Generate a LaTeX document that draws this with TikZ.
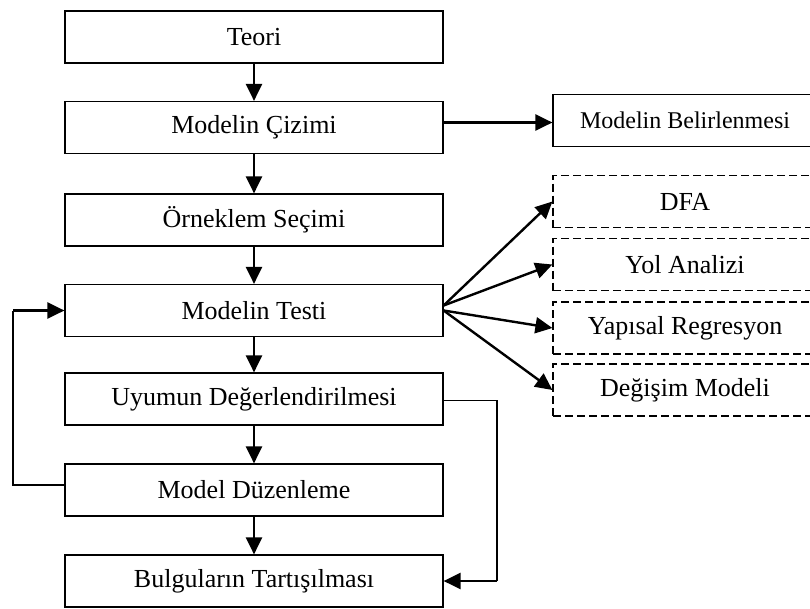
\documentclass[tikz,border=0pt]{standalone}
\usepackage{fontspec}
\setmainfont{Liberation Serif}
\usetikzlibrary{arrows.meta}
\tikzset{
  mainbox/.style={draw, line width=1.2pt, minimum width=378pt, minimum height=52pt,
    inner sep=0pt, font=\fontsize{26}{30}\selectfont},
  sidebox/.style={draw, line width=1.2pt, minimum width=264pt, minimum height=52pt,
    inner sep=0pt, font=\fontsize{26}{30}\selectfont},
  dashbox/.style={sidebox, dash pattern=on 8pt off 4pt},
  arr/.style={line width=2.4pt, -{Triangle[length=17pt,width=16pt]}},
  thinline/.style={line width=1.2pt}
}
\begin{document}
\begin{tikzpicture}[x=1pt,y=-1pt]
\clip (0,0) rectangle (810,608);
\fill[white] (0,0) rectangle (810,608);

% main column
\node[mainbox] (teori) at (254,37)    {Teori};
\node[mainbox] (ciz)   at (254,127.5) {Modelin Çizimi};
\node[mainbox] (orn)   at (254,220)   {Örneklem Seçimi};
\node[mainbox] (testi) at (254,310.5) {Modelin Testi};
\node[mainbox] (uyum)  at (254,399)   {Uyumun Değerlendirilmesi};
\node[mainbox] (duz)   at (254,490)   {Model Düzenleme};
\node[mainbox] (bul)   at (254,581)   {Bulguların Tartışılması};

% side boxes
\node[sidebox, font=\fontsize{24}{28}\selectfont] (bel) at (685,120.5) {Modelin Belirlenmesi};
\node[dashbox] (dfa) at (685,201.5) {DFA};
\node[dashbox] (yol) at (685,264.5) {Yol Analizi};
\node[dashbox] (yap) at (685,328)   {Yapısal Regresyon};
\node[dashbox] (deg) at (685,390)   {Değişim Modeli};

% vertical flow
\draw[arr] (teori) -- (ciz);
\draw[arr] (ciz) -- (orn);
\draw[arr] (orn) -- (testi);
\draw[arr] (testi) -- (uyum);
\draw[arr] (uyum) -- (duz);
\draw[arr] (duz) -- (bul);

% to the side
\draw[arr] ([yshift=5pt]ciz.east) -- ([yshift=5pt]ciz.east -| bel.west);
\draw[arr] ([yshift=5pt]testi.east) -- (dfa.west);
\draw[arr] ([yshift=5pt]testi.east) -- (yol.west);
\draw[arr] (testi.east) -- (yap.west);
\draw[arr] (testi.east) -- (deg.west);

% feedback loop on the left
\coordinate (lc) at (13,310.5);
\draw[thinline] ([yshift=5pt]duz.west) -| (lc);
\draw[arr] (lc) -- (testi.west);

% bypass on the right
\coordinate (rc) at (497,581);
\draw[thinline] ([yshift=-1.5pt]uyum.east) -| (rc);
\draw[arr] (rc) -- (bul.east);
\end{tikzpicture}
\end{document}
